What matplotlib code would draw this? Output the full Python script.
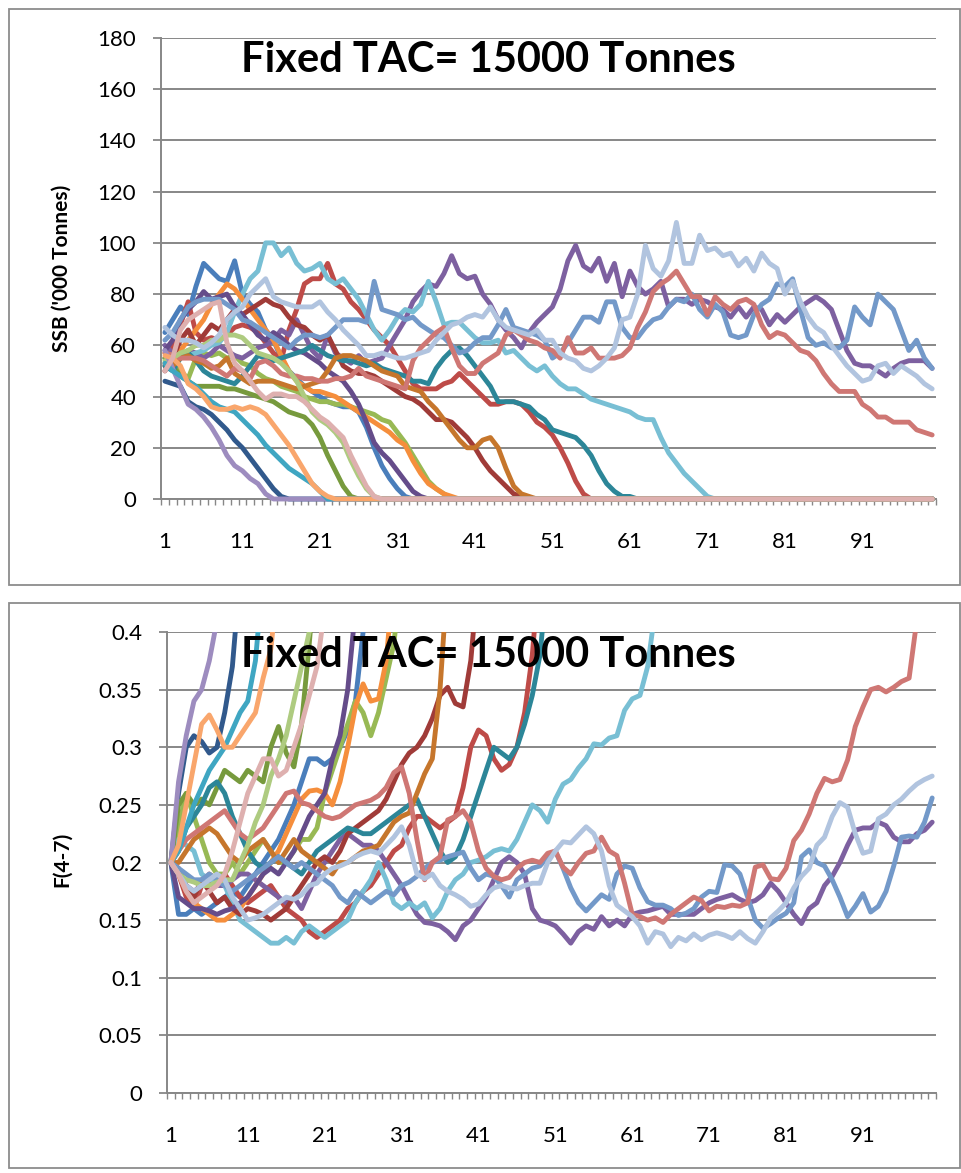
import numpy as np
import matplotlib
matplotlib.use('Agg')
import matplotlib.pyplot as plt
from matplotlib.patches import Rectangle

plt.rcParams['font.family'] = ['Lato', 'DejaVu Sans']

TITLE = 'Fixed TAC= 15000 Tonnes'
YEAR_LABELS = [1, 11, 21, 31, 41, 51, 61, 71, 81, 91]

# ═══ SSB ('000 t) per simulation run, years 1-100 ═══

ssb_blue = [
    65, 70, 75, 72, 83, 92, 89, 86, 85, 93,
    80, 76, 73, 66, 62, 55, 50, 47, 44, 42,
    40, 38, 37, 36, 36, 34, 28, 20, 13, 8,
    4, 1, 0, 0, 0, 0, 0, 0, 0, 0,
    0, 0, 0, 0, 0, 0, 0, 0, 0, 0,
    0, 0, 0, 0, 0, 0, 0, 0, 0, 0,
    0, 0, 0, 0, 0, 0, 0, 0, 0, 0,
    0, 0, 0, 0, 0, 0, 0, 0, 0, 0,
    0, 0, 0, 0, 0, 0, 0, 0, 0, 0,
    0, 0, 0, 0, 0, 0, 0, 0, 0, 0,
]
ssb_red = [
    52, 60, 68, 77, 65, 62, 63, 62, 64, 67,
    68, 67, 65, 61, 57, 54, 66, 74, 84, 86,
    86, 92, 84, 82, 77, 74, 70, 66, 63, 60,
    55, 50, 45, 43, 43, 43, 45, 46, 49, 46,
    43, 40, 37, 37, 38, 38, 37, 34, 30, 28,
    25, 20, 14, 7, 2, 0, 0, 0, 0, 0,
    0, 0, 0, 0, 0, 0, 0, 0, 0, 0,
    0, 0, 0, 0, 0, 0, 0, 0, 0, 0,
    0, 0, 0, 0, 0, 0, 0, 0, 0, 0,
    0, 0, 0, 0, 0, 0, 0, 0, 0, 0,
]
ssb_green = [
    55, 53, 50, 47, 55, 57, 56, 57, 55, 56,
    53, 52, 49, 47, 46, 44, 43, 42, 40, 39,
    38, 38, 37, 37, 36, 35, 34, 33, 31, 30,
    26, 22, 17, 12, 7, 4, 2, 0, 0, 0,
    0, 0, 0, 0, 0, 0, 0, 0, 0, 0,
    0, 0, 0, 0, 0, 0, 0, 0, 0, 0,
    0, 0, 0, 0, 0, 0, 0, 0, 0, 0,
    0, 0, 0, 0, 0, 0, 0, 0, 0, 0,
    0, 0, 0, 0, 0, 0, 0, 0, 0, 0,
    0, 0, 0, 0, 0, 0, 0, 0, 0, 0,
]
ssb_purple = [
    60, 57, 56, 58, 57, 55, 57, 60, 58, 56,
    55, 57, 59, 60, 62, 66, 64, 70, 64, 58,
    55, 64, 57, 55, 53, 56, 53, 54, 55, 60,
    65, 70, 77, 81, 84, 83, 88, 95, 88, 86,
    87, 80, 76, 70, 66, 63, 59, 65, 69, 72,
    75, 82, 93, 99, 91, 89, 94, 85, 92, 79,
    89, 83, 80, 82, 85, 75, 78, 78, 76, 78,
    77, 75, 74, 71, 75, 71, 75, 74, 68, 72,
    69, 72, 75, 77, 79, 77, 74, 66, 58, 53,
    52, 52, 50, 48, 51, 53, 54, 54, 54, 51,
]
ssb_aqua = [
    55, 54, 55, 56, 57, 58, 60, 61, 65, 73,
    80, 86, 89, 100, 100, 95, 98, 92, 89, 90,
    92, 86, 84, 86, 82, 78, 72, 66, 62, 66,
    71, 74, 73, 76, 85, 77, 68, 69, 69, 66,
    63, 61, 61, 62, 57, 58, 55, 52, 50, 52,
    48, 45, 43, 43, 41, 39, 38, 37, 36, 35,
    34, 32, 31, 31, 24, 18, 14, 10, 7, 4,
    1, 0, 0, 0, 0, 0, 0, 0, 0, 0,
    0, 0, 0, 0, 0, 0, 0, 0, 0, 0,
    0, 0, 0, 0, 0, 0, 0, 0, 0, 0,
]
ssb_orange = [
    57, 56, 58, 62, 66, 70, 76, 80, 84, 82,
    78, 74, 70, 66, 62, 56, 50, 46, 44, 42,
    42, 41, 40, 38, 36, 34, 32, 30, 28, 26,
    23, 21, 15, 10, 6, 4, 2, 1, 0, 0,
    0, 0, 0, 0, 0, 0, 0, 0, 0, 0,
    0, 0, 0, 0, 0, 0, 0, 0, 0, 0,
    0, 0, 0, 0, 0, 0, 0, 0, 0, 0,
    0, 0, 0, 0, 0, 0, 0, 0, 0, 0,
    0, 0, 0, 0, 0, 0, 0, 0, 0, 0,
    0, 0, 0, 0, 0, 0, 0, 0, 0, 0,
]
ssb_darkblue = [
    46, 45, 44, 38, 36, 35, 33, 30, 27, 23,
    20, 16, 12, 8, 4, 1, 0, 0, 0, 0,
    0, 0, 0, 0, 0, 0, 0, 0, 0, 0,
    0, 0, 0, 0, 0, 0, 0, 0, 0, 0,
    0, 0, 0, 0, 0, 0, 0, 0, 0, 0,
    0, 0, 0, 0, 0, 0, 0, 0, 0, 0,
    0, 0, 0, 0, 0, 0, 0, 0, 0, 0,
    0, 0, 0, 0, 0, 0, 0, 0, 0, 0,
    0, 0, 0, 0, 0, 0, 0, 0, 0, 0,
    0, 0, 0, 0, 0, 0, 0, 0, 0, 0,
]
ssb_darkred = [
    50, 55, 62, 66, 60, 64, 68, 66, 70, 74,
    72, 74, 76, 78, 76, 75, 71, 68, 67, 64,
    62, 64, 58, 52, 50, 49, 49, 48, 46, 44,
    42, 40, 39, 37, 34, 31, 31, 30, 27, 24,
    20, 15, 11, 8, 5, 2, 1, 0, 0, 0,
    0, 0, 0, 0, 0, 0, 0, 0, 0, 0,
    0, 0, 0, 0, 0, 0, 0, 0, 0, 0,
    0, 0, 0, 0, 0, 0, 0, 0, 0, 0,
    0, 0, 0, 0, 0, 0, 0, 0, 0, 0,
    0, 0, 0, 0, 0, 0, 0, 0, 0, 0,
]
ssb_olive = [
    55, 52, 48, 46, 44, 44, 44, 44, 43, 43,
    42, 41, 40, 39, 38, 36, 34, 33, 32, 29,
    24, 17, 11, 5, 1, 0, 0, 0, 0, 0,
    0, 0, 0, 0, 0, 0, 0, 0, 0, 0,
    0, 0, 0, 0, 0, 0, 0, 0, 0, 0,
    0, 0, 0, 0, 0, 0, 0, 0, 0, 0,
    0, 0, 0, 0, 0, 0, 0, 0, 0, 0,
    0, 0, 0, 0, 0, 0, 0, 0, 0, 0,
    0, 0, 0, 0, 0, 0, 0, 0, 0, 0,
    0, 0, 0, 0, 0, 0, 0, 0, 0, 0,
]
ssb_darkpurple = [
    58, 62, 70, 74, 77, 81, 78, 79, 80, 75,
    72, 68, 64, 62, 65, 63, 60, 58, 57, 55,
    53, 50, 48, 46, 42, 37, 30, 22, 18, 15,
    11, 7, 3, 1, 0, 0, 0, 0, 0, 0,
    0, 0, 0, 0, 0, 0, 0, 0, 0, 0,
    0, 0, 0, 0, 0, 0, 0, 0, 0, 0,
    0, 0, 0, 0, 0, 0, 0, 0, 0, 0,
    0, 0, 0, 0, 0, 0, 0, 0, 0, 0,
    0, 0, 0, 0, 0, 0, 0, 0, 0, 0,
    0, 0, 0, 0, 0, 0, 0, 0, 0, 0,
]
ssb_teal = [
    52, 50, 55, 57, 54, 50, 48, 47, 46, 45,
    48, 52, 56, 55, 54, 55, 56, 57, 58, 60,
    58, 56, 55, 54, 54, 53, 52, 53, 51, 50,
    49, 48, 46, 46, 45, 51, 55, 58, 59, 56,
    52, 48, 44, 38, 38, 38, 37, 36, 33, 31,
    27, 26, 25, 24, 21, 17, 11, 6, 3, 1,
    1, 0, 0, 0, 0, 0, 0, 0, 0, 0,
    0, 0, 0, 0, 0, 0, 0, 0, 0, 0,
    0, 0, 0, 0, 0, 0, 0, 0, 0, 0,
    0, 0, 0, 0, 0, 0, 0, 0, 0, 0,
]
ssb_darkorange = [
    53, 52, 55, 56, 54, 53, 51, 52, 55, 49,
    47, 45, 46, 46, 46, 45, 44, 43, 44, 45,
    46, 50, 55, 56, 56, 55, 54, 52, 50, 49,
    48, 44, 43, 42, 38, 35, 31, 27, 23, 20,
    20, 23, 24, 20, 12, 5, 2, 1, 0, 0,
    0, 0, 0, 0, 0, 0, 0, 0, 0, 0,
    0, 0, 0, 0, 0, 0, 0, 0, 0, 0,
    0, 0, 0, 0, 0, 0, 0, 0, 0, 0,
    0, 0, 0, 0, 0, 0, 0, 0, 0, 0,
    0, 0, 0, 0, 0, 0, 0, 0, 0, 0,
]
ssb_lightblue = [
    62, 65, 70, 75, 77, 78, 78, 78, 76, 74,
    70, 69, 67, 65, 63, 61, 59, 62, 64, 64,
    63, 64, 67, 70, 70, 70, 69, 85, 74, 73,
    72, 70, 71, 68, 66, 64, 63, 60, 57, 58,
    61, 63, 63, 68, 74, 67, 66, 65, 64, 62,
    55, 57, 61, 66, 71, 71, 69, 77, 77, 67,
    63, 63, 67, 70, 71, 75, 78, 77, 80, 74,
    71, 76, 73, 64, 63, 64, 72, 76, 78, 84,
    83, 86, 74, 63, 60, 61, 59, 59, 62, 75,
    71, 68, 80, 77, 74, 66, 58, 62, 55, 51,
]
ssb_lightred = [
    57, 56, 55, 55, 55, 54, 52, 50, 48, 51,
    50, 47, 53, 54, 52, 49, 48, 48, 47, 47,
    46, 46, 47, 47, 48, 51, 48, 47, 46, 45,
    44, 43, 54, 59, 62, 65, 67, 59, 52, 49,
    49, 53, 55, 57, 64, 66, 64, 62, 61, 59,
    58, 55, 63, 57, 57, 59, 55, 55, 55, 56,
    59, 67, 73, 81, 84, 86, 89, 84, 79, 79,
    72, 79, 76, 74, 77, 78, 76, 68, 63, 65,
    64, 61, 58, 57, 54, 49, 45, 42, 42, 42,
    37, 35, 32, 32, 30, 30, 30, 27, 26, 25,
]
ssb_palegreen = [
    54, 55, 57, 58, 60, 60, 62, 62, 64, 64,
    63, 60, 57, 56, 55, 53, 50, 46, 40, 34,
    31, 29, 26, 22, 15, 9, 4, 1, 0, 0,
    0, 0, 0, 0, 0, 0, 0, 0, 0, 0,
    0, 0, 0, 0, 0, 0, 0, 0, 0, 0,
    0, 0, 0, 0, 0, 0, 0, 0, 0, 0,
    0, 0, 0, 0, 0, 0, 0, 0, 0, 0,
    0, 0, 0, 0, 0, 0, 0, 0, 0, 0,
    0, 0, 0, 0, 0, 0, 0, 0, 0, 0,
    0, 0, 0, 0, 0, 0, 0, 0, 0, 0,
]
ssb_lavender = [
    58, 51, 44, 37, 35, 32, 28, 23, 17, 13,
    11, 8, 6, 2, 0, 0, 0, 0, 0, 0,
    0, 0, 0, 0, 0, 0, 0, 0, 0, 0,
    0, 0, 0, 0, 0, 0, 0, 0, 0, 0,
    0, 0, 0, 0, 0, 0, 0, 0, 0, 0,
    0, 0, 0, 0, 0, 0, 0, 0, 0, 0,
    0, 0, 0, 0, 0, 0, 0, 0, 0, 0,
    0, 0, 0, 0, 0, 0, 0, 0, 0, 0,
    0, 0, 0, 0, 0, 0, 0, 0, 0, 0,
    0, 0, 0, 0, 0, 0, 0, 0, 0, 0,
]
ssb_midaqua = [
    53, 50, 48, 46, 44, 41, 38, 36, 35, 34,
    31, 28, 25, 21, 18, 15, 12, 10, 8, 6,
    3, 0, 0, 0, 0, 0, 0, 0, 0, 0,
    0, 0, 0, 0, 0, 0, 0, 0, 0, 0,
    0, 0, 0, 0, 0, 0, 0, 0, 0, 0,
    0, 0, 0, 0, 0, 0, 0, 0, 0, 0,
    0, 0, 0, 0, 0, 0, 0, 0, 0, 0,
    0, 0, 0, 0, 0, 0, 0, 0, 0, 0,
    0, 0, 0, 0, 0, 0, 0, 0, 0, 0,
    0, 0, 0, 0, 0, 0, 0, 0, 0, 0,
]
ssb_lightorange = [
    56, 55, 52, 45, 43, 40, 36, 35, 35, 36,
    35, 36, 35, 33, 29, 25, 21, 16, 11, 6,
    3, 1, 0, 0, 0, 0, 0, 0, 0, 0,
    0, 0, 0, 0, 0, 0, 0, 0, 0, 0,
    0, 0, 0, 0, 0, 0, 0, 0, 0, 0,
    0, 0, 0, 0, 0, 0, 0, 0, 0, 0,
    0, 0, 0, 0, 0, 0, 0, 0, 0, 0,
    0, 0, 0, 0, 0, 0, 0, 0, 0, 0,
    0, 0, 0, 0, 0, 0, 0, 0, 0, 0,
    0, 0, 0, 0, 0, 0, 0, 0, 0, 0,
]
ssb_bluegray = [
    67, 64, 62, 62, 61, 59, 61, 64, 70, 73,
    75, 80, 83, 86, 79, 77, 76, 75, 75, 75,
    77, 73, 70, 66, 63, 60, 56, 56, 57, 56,
    55, 55, 56, 57, 58, 62, 65, 68, 69, 71,
    72, 71, 75, 70, 67, 66, 65, 64, 66, 62,
    62, 57, 55, 54, 51, 50, 52, 55, 59, 70,
    71, 80, 99, 90, 87, 93, 108, 92, 92, 103,
    97, 98, 95, 96, 91, 94, 89, 96, 92, 90,
    80, 85, 77, 71, 67, 65, 60, 56, 52, 49,
    46, 47, 52, 53, 49, 52, 50, 48, 45, 43,
]
ssb_pink = [
    50, 55, 66, 70, 72, 74, 76, 77, 61, 53,
    50, 46, 42, 39, 41, 41, 40, 40, 38, 35,
    32, 30, 27, 24, 17, 11, 5, 1, 0, 0,
    0, 0, 0, 0, 0, 0, 0, 0, 0, 0,
    0, 0, 0, 0, 0, 0, 0, 0, 0, 0,
    0, 0, 0, 0, 0, 0, 0, 0, 0, 0,
    0, 0, 0, 0, 0, 0, 0, 0, 0, 0,
    0, 0, 0, 0, 0, 0, 0, 0, 0, 0,
    0, 0, 0, 0, 0, 0, 0, 0, 0, 0,
    0, 0, 0, 0, 0, 0, 0, 0, 0, 0,
]

# ═══ F(4-7) per run; collapsed runs stop once F leaves the 0-0.4 window ═══

f_blue = [0.2, 0.155, 0.155, 0.16, 0.155, 0.16, 0.165, 0.17, 0.175, 0.17,
          0.18, 0.19, 0.2, 0.21, 0.22, 0.235, 0.25, 0.27, 0.29, 0.29,
          0.285, 0.29, 0.3, 0.315, 0.34, 0.4, 0.48]
f_red = [0.2, 0.19, 0.17, 0.16, 0.18, 0.19, 0.185, 0.19, 0.18, 0.17,
         0.165, 0.17, 0.175, 0.18, 0.17, 0.16, 0.155, 0.15, 0.14, 0.135,
         0.14, 0.145, 0.15, 0.16, 0.165, 0.175, 0.18, 0.19, 0.2, 0.21,
         0.215, 0.23, 0.24, 0.24, 0.235, 0.23, 0.235, 0.24, 0.265, 0.3,
         0.315, 0.31, 0.29, 0.28, 0.285, 0.3, 0.33, 0.38, 0.46]
f_green = [0.2, 0.23, 0.26, 0.24, 0.22, 0.2, 0.19, 0.19, 0.2, 0.19,
           0.2, 0.21, 0.22, 0.21, 0.2, 0.2, 0.21, 0.22, 0.22, 0.23,
           0.26, 0.28, 0.3, 0.32, 0.34, 0.33, 0.31, 0.33, 0.36, 0.39, 0.45]
f_purple = [
    0.2, 0.19, 0.18, 0.175, 0.18, 0.185, 0.18, 0.18, 0.185, 0.19,
    0.19, 0.185, 0.18, 0.175, 0.17, 0.165, 0.17, 0.16, 0.175, 0.19,
    0.2, 0.21, 0.22, 0.225, 0.22, 0.215, 0.215, 0.21, 0.2, 0.19,
    0.18, 0.167, 0.155, 0.148, 0.147, 0.145, 0.14, 0.133, 0.145, 0.15,
    0.16, 0.17, 0.185, 0.2, 0.205, 0.2, 0.19, 0.16, 0.15, 0.148,
    0.145, 0.138, 0.13, 0.14, 0.145, 0.142, 0.153, 0.145, 0.15, 0.145,
    0.155, 0.157, 0.158, 0.16, 0.162, 0.155, 0.155, 0.155, 0.155, 0.16,
    0.165, 0.168, 0.17, 0.172, 0.168, 0.165, 0.167, 0.172, 0.182, 0.175,
    0.165, 0.155, 0.147, 0.16, 0.165, 0.18, 0.188, 0.2, 0.215, 0.228,
    0.23, 0.23, 0.235, 0.232, 0.222, 0.218, 0.218, 0.225, 0.228, 0.235,
]
f_aqua = [0.2, 0.22, 0.215, 0.21, 0.19, 0.185, 0.185, 0.18, 0.165, 0.15,
          0.145, 0.14, 0.135, 0.13, 0.13, 0.135, 0.13, 0.14, 0.145, 0.14,
          0.135, 0.14, 0.145, 0.15, 0.165, 0.175, 0.185, 0.2, 0.185, 0.165,
          0.16, 0.165, 0.16, 0.165, 0.152, 0.16, 0.175, 0.185, 0.19, 0.2,
          0.202, 0.205, 0.21, 0.212, 0.21, 0.22, 0.235, 0.25, 0.245, 0.235,
          0.255, 0.268, 0.272, 0.282, 0.29, 0.303, 0.302, 0.308, 0.31, 0.332,
          0.342, 0.345, 0.37, 0.42, 0.5]
f_orange = [0.2, 0.19, 0.175, 0.165, 0.16, 0.155, 0.15, 0.15, 0.155, 0.16,
            0.17, 0.18, 0.19, 0.2, 0.21, 0.225, 0.24, 0.255, 0.262, 0.263,
            0.26, 0.25, 0.27, 0.3, 0.335, 0.355, 0.34, 0.342, 0.375, 0.45]
f_darkblue = [0.2, 0.26, 0.3, 0.31, 0.305, 0.295, 0.3, 0.33, 0.37, 0.45]
f_darkred = [0.2, 0.195, 0.18, 0.17, 0.185, 0.175, 0.165, 0.17, 0.16, 0.155,
             0.16, 0.158, 0.155, 0.15, 0.155, 0.16, 0.17, 0.18, 0.19, 0.2,
             0.205, 0.2, 0.21, 0.225, 0.23, 0.235, 0.24, 0.245, 0.255, 0.27,
             0.285, 0.295, 0.3, 0.31, 0.325, 0.345, 0.352, 0.338, 0.335, 0.375,
             0.45]
f_olive = [0.2, 0.25, 0.26, 0.25, 0.255, 0.25, 0.265, 0.28, 0.275, 0.27,
           0.28, 0.275, 0.27, 0.3, 0.318, 0.295, 0.283, 0.32, 0.39, 0.47]
f_darkpurple = [0.2, 0.17, 0.165, 0.16, 0.16, 0.158, 0.155, 0.158, 0.16, 0.165,
                0.17, 0.18, 0.19, 0.195, 0.19, 0.2, 0.21, 0.225, 0.24, 0.25,
                0.26, 0.29, 0.31, 0.35, 0.42]
f_teal = [0.2, 0.21, 0.23, 0.24, 0.25, 0.265, 0.27, 0.26, 0.24, 0.225,
          0.21, 0.2, 0.195, 0.2, 0.205, 0.2, 0.195, 0.19, 0.2, 0.21,
          0.215, 0.22, 0.225, 0.23, 0.228, 0.225, 0.225, 0.23, 0.235, 0.24,
          0.245, 0.25, 0.255, 0.24, 0.225, 0.21, 0.2, 0.205, 0.22, 0.24,
          0.26, 0.28, 0.3, 0.295, 0.29, 0.3, 0.32, 0.345, 0.38, 0.45]
f_darkorange = [0.2, 0.2, 0.21, 0.22, 0.225, 0.23, 0.225, 0.215, 0.205, 0.2,
                0.21, 0.215, 0.22, 0.21, 0.2, 0.21, 0.22, 0.21, 0.205, 0.2,
                0.195, 0.19, 0.2, 0.2, 0.205, 0.21, 0.212, 0.215, 0.225, 0.235,
                0.24, 0.243, 0.26, 0.277, 0.29, 0.35, 0.45]
f_lightblue = [
    0.2, 0.195, 0.19, 0.185, 0.185, 0.19, 0.185, 0.18, 0.175, 0.18,
    0.185, 0.19, 0.195, 0.2, 0.205, 0.2, 0.195, 0.2, 0.195, 0.19,
    0.185, 0.18, 0.17, 0.165, 0.175, 0.17, 0.165, 0.17, 0.175, 0.172,
    0.18, 0.183, 0.188, 0.195, 0.2, 0.202, 0.205, 0.207, 0.209, 0.195,
    0.185, 0.19, 0.188, 0.18, 0.17, 0.185, 0.19, 0.195, 0.197, 0.205,
    0.21, 0.195, 0.178, 0.165, 0.158, 0.165, 0.172, 0.168, 0.19, 0.197,
    0.195, 0.178, 0.166, 0.163, 0.163, 0.16, 0.154, 0.156, 0.16, 0.17,
    0.175, 0.174, 0.198, 0.197, 0.19, 0.17, 0.15, 0.143, 0.147, 0.152,
    0.156, 0.165, 0.205, 0.211, 0.2, 0.197, 0.185, 0.17, 0.153, 0.162,
    0.173, 0.157, 0.162, 0.175, 0.197, 0.222, 0.223, 0.222, 0.235, 0.256,
]
f_lightred = [
    0.2, 0.21, 0.22, 0.225, 0.23, 0.235, 0.24, 0.245, 0.235, 0.225,
    0.22, 0.225, 0.23, 0.24, 0.25, 0.26, 0.262, 0.252, 0.25, 0.245,
    0.24, 0.238, 0.24, 0.245, 0.25, 0.252, 0.254, 0.258, 0.265, 0.278,
    0.283, 0.26, 0.22, 0.185, 0.2, 0.205, 0.237, 0.24, 0.245, 0.235,
    0.21, 0.195, 0.188, 0.185, 0.187, 0.195, 0.2, 0.202, 0.2, 0.208,
    0.21, 0.196, 0.19, 0.2, 0.208, 0.21, 0.222, 0.21, 0.206, 0.182,
    0.155, 0.153, 0.15, 0.152, 0.148, 0.155, 0.16, 0.165, 0.17, 0.167,
    0.158, 0.162, 0.161, 0.163, 0.162, 0.165, 0.196, 0.198, 0.186, 0.185,
    0.195, 0.219, 0.228, 0.242, 0.26, 0.273, 0.27, 0.272, 0.289, 0.318,
    0.335, 0.35, 0.352, 0.348, 0.352, 0.357, 0.36, 0.41, 0.47, 0.52,
]
f_palegreen = [0.2, 0.19, 0.185, 0.183, 0.18, 0.18, 0.183, 0.185, 0.185, 0.2,
               0.215, 0.235, 0.25, 0.275, 0.29, 0.31, 0.34, 0.37, 0.4, 0.48]
f_lavender = [0.2, 0.27, 0.31, 0.34, 0.35, 0.375, 0.41, 0.5]
f_midaqua = [0.2, 0.21, 0.23, 0.25, 0.265, 0.28, 0.29, 0.3, 0.315, 0.33,
             0.34, 0.375, 0.45]
f_lightorange = [0.2, 0.215, 0.25, 0.285, 0.32, 0.328, 0.315, 0.3, 0.3, 0.31,
                 0.32, 0.33, 0.36, 0.385, 0.45]
f_bluegray = [
    0.2, 0.19, 0.18, 0.175, 0.18, 0.185, 0.19, 0.185, 0.17, 0.16,
    0.15, 0.152, 0.155, 0.16, 0.165, 0.17, 0.168, 0.172, 0.18, 0.182,
    0.19, 0.195, 0.197, 0.2, 0.205, 0.208, 0.21, 0.208, 0.215, 0.222,
    0.231, 0.215, 0.19, 0.186, 0.19, 0.18, 0.175, 0.172, 0.168, 0.162,
    0.164, 0.172, 0.178, 0.18, 0.178, 0.177, 0.18, 0.182, 0.182, 0.2,
    0.21, 0.218, 0.217, 0.224, 0.231, 0.225, 0.21, 0.18, 0.163, 0.158,
    0.153, 0.145, 0.13, 0.14, 0.138, 0.127, 0.135, 0.132, 0.138, 0.133,
    0.137, 0.139, 0.137, 0.134, 0.14, 0.134, 0.13, 0.14, 0.152, 0.158,
    0.165, 0.178, 0.188, 0.195, 0.215, 0.222, 0.24, 0.252, 0.248, 0.225,
    0.208, 0.21, 0.238, 0.242, 0.25, 0.255, 0.262, 0.268, 0.272, 0.275,
]
f_pink = [0.2, 0.19, 0.175, 0.165, 0.17, 0.175, 0.18, 0.19, 0.21, 0.235,
          0.26, 0.275, 0.29, 0.29, 0.275, 0.28, 0.3, 0.32, 0.345, 0.37, 0.42]

# draw order (last one ends up on top)
RUNS = [
    ('#4A7EBB', ssb_blue, f_blue),
    ('#BE4B48', ssb_red, f_red),
    ('#98B954', ssb_green, f_green),
    ('#7D60A0', ssb_purple, f_purple),
    ('#78BFD4', ssb_aqua, f_aqua),
    ('#F58E3C', ssb_orange, f_orange),
    ('#31598C', ssb_darkblue, f_darkblue),
    ('#A03B38', ssb_darkred, f_darkred),
    ('#779A3D', ssb_olive, f_olive),
    ('#654C8A', ssb_darkpurple, f_darkpurple),
    ('#2C8698', ssb_teal, f_teal),
    ('#C6762C', ssb_darkorange, f_darkorange),
    ('#7399C9', ssb_lightblue, f_lightblue),
    ('#CF7774', ssb_lightred, f_lightred),
    ('#AECB80', ssb_palegreen, f_palegreen),
    ('#9D8CBF', ssb_lavender, f_lavender),
    ('#3FA6C2', ssb_midaqua, f_midaqua),
    ('#F9A66C', ssb_lightorange, f_lightorange),
    ('#B1C4DF', ssb_bluegray, f_bluegray),
    ('#DEB0AF', ssb_pink, f_pink),
]

GRID = '#878787'
LW = 3.5


def style_axes(ax, ymax, ystep):
    ax.set_xlim(0.5, 100.5)
    ax.set_ylim(0, ymax)
    yt = np.round(np.arange(0, ymax + ystep / 2, ystep), 3)
    ax.set_yticks(yt)
    ax.set_yticklabels([f'{v:g}' for v in yt])
    ax.set_xticks(YEAR_LABELS)
    ax.set_xticklabels([str(v) for v in YEAR_LABELS])
    ax.set_xticks(np.arange(0.5, 101, 1), minor=True)
    ax.tick_params(axis='x', which='major', length=0, pad=24, labelsize=16)
    ax.tick_params(axis='x', which='minor', length=4, width=1, color=GRID,
                   direction='out')
    ax.tick_params(axis='y', which='major', length=6, width=1.3, color=GRID,
                   direction='out', pad=12, labelsize=16)
    ax.yaxis.grid(True, color=GRID, lw=1.4)
    ax.set_axisbelow(True)
    for s in ['top', 'right']:
        ax.spines[s].set_visible(False)
    for s in ['left', 'bottom']:
        ax.spines[s].set_color(GRID)
        ax.spines[s].set_linewidth(1.4)


fig = plt.figure(figsize=(9.62, 11.73), dpi=100)

# frames around each chart
for y0, h in [(0.5013, 0.4910), (0.0043, 0.4817)]:
    fig.add_artist(Rectangle((0.0094, y0), 0.9886, h, transform=fig.transFigure,
                             fill=False, edgecolor='#8C8C8C', lw=1.3))

ax1 = fig.add_axes([0.1674, 0.5746, 0.8056, 0.3930])
ax2 = fig.add_axes([0.1736, 0.0682, 0.7994, 0.3930])

for color, ssb, f in RUNS:
    ax1.plot(np.arange(1, len(ssb) + 1), ssb, color=color, lw=LW,
             solid_joinstyle='round', solid_capstyle='round', zorder=3,
             clip_on=False)
    ax2.plot(np.arange(1, len(f) + 1), f, color=color, lw=LW,
             solid_joinstyle='round', solid_capstyle='round', zorder=3)

style_axes(ax1, 180, 20)
style_axes(ax2, 0.4, 0.05)

fig.text(0.0645, 0.7715, "SSB ('000 Tonnes)", rotation=90, ha='center',
         va='center', fontsize=15, fontweight='bold')
fig.text(0.0645, 0.267, 'F(4-7)', rotation=90, ha='center', va='center',
         fontsize=15, fontweight='bold')

fig.text(0.508, 0.9488, TITLE, ha='center', va='center', fontsize=30,
         fontweight='bold', zorder=10)
fig.text(0.508, 0.4416, TITLE, ha='center', va='center', fontsize=30,
         fontweight='bold', zorder=10)

fig.savefig('out.png', dpi=100)
